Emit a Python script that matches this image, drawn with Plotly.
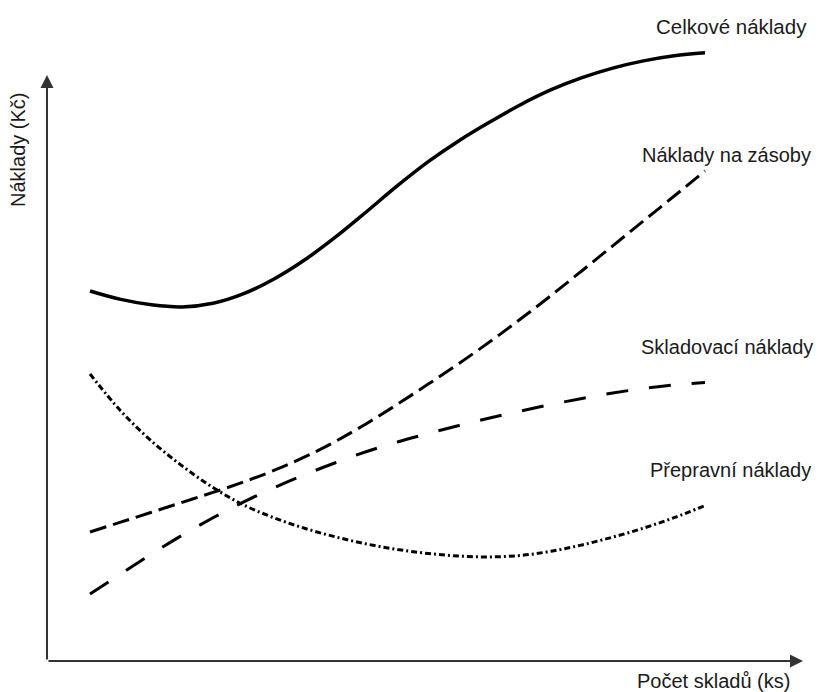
import plotly.graph_objects as go

# Data (schematic, unitless)
x_vals = [0, 0.5, 1, 1.5, 2, 2.5, 3, 3.5, 4, 4.5, 5, 5.5, 6, 6.5, 7, 7.5, 8, 8.5, 9, 9.5, 10]
celkove = [61.5, 60.1, 59.2, 58.85, 59.45, 61.05, 63.55, 66.75, 70.55, 74.75, 79.05,
           83.05, 86.55, 89.65, 92.55, 95.05, 97.05, 98.65, 99.85, 100.7, 101.2]
zasoby = [21.33, 22.98, 24.63, 26.28, 27.93, 29.68, 31.63, 33.88, 36.48, 39.43, 42.63,
          45.98, 49.43, 53.03, 56.83, 60.78, 64.88, 69.03, 73.18, 77.33, 81.5]
skladovaci = [11.0, 14.35, 17.65, 20.8, 23.7, 26.35, 28.75, 30.92, 32.92, 34.75, 36.34,
              37.75, 39.09, 40.34, 41.5, 42.59, 43.59, 44.5, 45.25, 45.84, 46.25]
prepravni = [47.67, 41.5, 36.5, 32.33, 28.75, 25.83, 23.67, 21.92, 20.5, 19.33, 18.42,
             17.75, 17.33, 17.18, 17.43, 18.13, 19.18, 20.48, 21.98, 23.73, 25.73]

labels = ["Celkové náklady", "Náklady na zásoby", "Skladovací náklady", "Přepravní náklady"]
x_title = "Počet skladů (ks)"
y_title = "Náklady (Kč)"

W, H = 828, 692
FONT = "Liberation Sans, Arial, sans-serif"

fig = go.Figure()
fig.add_trace(go.Scatter(x=x_vals, y=celkove, mode="lines",
                         line=dict(color="black", width=3.5, shape="spline", smoothing=1)))
fig.add_trace(go.Scatter(x=x_vals, y=zasoby, mode="lines",
                         line=dict(color="black", width=3, shape="spline", smoothing=1, dash="17px,7px")))
fig.add_trace(go.Scatter(x=x_vals, y=skladovaci, mode="lines",
                         line=dict(color="black", width=3, shape="spline", smoothing=1, dash="22px,21px")))
fig.add_trace(go.Scatter(x=x_vals, y=prepravni, mode="lines",
                         line=dict(color="black", width=3, shape="spline", smoothing=1, dash="6px,3px,2px,3px")))

# axes with arrows (data coords)
x0, y0 = -0.699, -0.17
x_end, y_end = 11.593, 97.5
fig.add_annotation(x=x_end, y=y0, ax=x0, ay=y0, xref="x", yref="y", axref="x", ayref="y",
                   showarrow=True, arrowhead=2, arrowsize=1.3, arrowwidth=2, arrowcolor="#333", text="", standoff=0)
fig.add_annotation(x=x0, y=y_end, ax=x0, ay=y0, xref="x", yref="y", axref="x", ayref="y",
                   showarrow=True, arrowhead=2, arrowsize=1.3, arrowwidth=2, arrowcolor="#333", text="", standoff=0)


def px(xp):
    return xp / W


def py(yp):
    return 1 - yp / H


lab_pos = [(809, 27, 20.5), (813, 155, 20), (815, 347, 20), (813, 470, 20)]
for t, (lx, ly, fs) in zip(labels, lab_pos):
    fig.add_annotation(x=px(lx), y=py(ly), xref="paper", yref="paper", text=t, showarrow=False,
                       xanchor="right", yanchor="middle", font=dict(family=FONT, size=fs, color="#1a1a1a"))

fig.add_annotation(x=px(792), y=py(681), xref="paper", yref="paper", text=x_title, showarrow=False,
                   xanchor="right", yanchor="middle", font=dict(family=FONT, size=20, color="#1a1a1a"))
fig.add_annotation(x=px(18), y=py(150), xref="paper", yref="paper", text=y_title, showarrow=False,
                   textangle=-90, xanchor="center", yanchor="middle", font=dict(family=FONT, size=20, color="#1a1a1a"))

fig.update_xaxes(range=[-90 / 61.5, (W - 90) / 61.5], visible=False, fixedrange=True)
fig.update_yaxes(range=[(660 - H) / 6, 660 / 6], visible=False, fixedrange=True)
fig.update_layout(width=W, height=H, margin=dict(l=0, r=0, t=0, b=0), showlegend=False,
                  plot_bgcolor="white", paper_bgcolor="white")

fig.write_html("out.html", config={"displayModeBar": False},
               post_script="document.body.style.margin='0px';")
